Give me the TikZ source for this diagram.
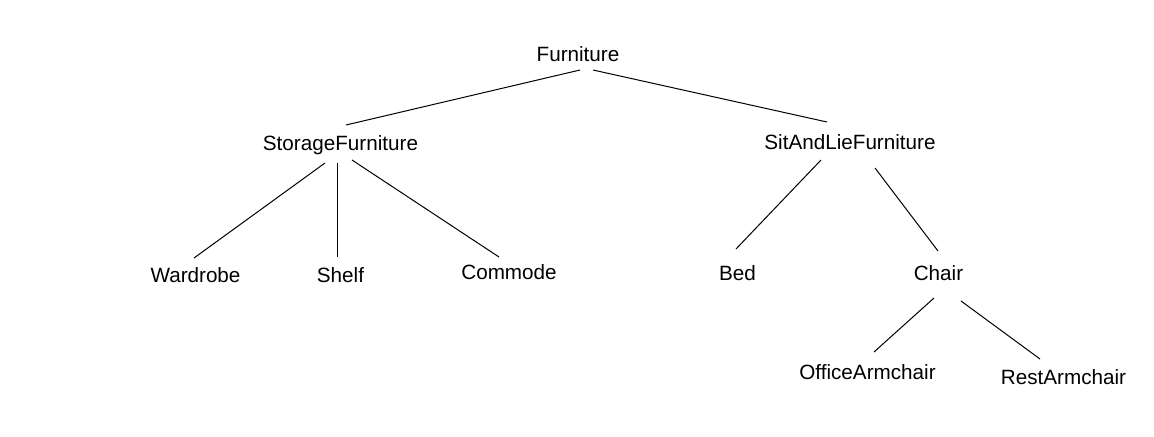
\documentclass[tikz,border=0pt]{standalone}
\usepackage{fontspec}
\setmainfont{Liberation Sans}
\usetikzlibrary{calc}
\begin{document}
\begin{tikzpicture}[x=0.75pt,y=-0.75pt,
  lbl/.style={anchor=base,inner sep=0pt,font=\fontsize{15.5pt}{18pt}\selectfont},
  edge/.style={draw=black,line width=0.75pt}]
\useasboundingbox (0,0) rectangle (1154,436);
\node[lbl] (F) at (578,61) {Furniture};
\node[lbl] (S) at (340.5,150) {StorageFurniture};
\node[lbl] (L) at (850,149) {SitAndLieFurniture};
\node[lbl] (W) at (195.5,282) {Wardrobe};
\node[lbl] (Sh) at (340.5,282) {Shelf};
\node[lbl] (Co) at (509,279) {Commode};
\node[lbl] (B) at (737.5,280) {Bed};
\node[lbl] (C) at (938.5,280) {Chair};
\node[lbl] (O) at (867.5,379) {OfficeArmchair};
\node[lbl] (R) at (1063.5,384) {RestArmchair};
\draw[edge] ($(F.base)+(2,9)$) -- ($(S.base)+(5.5,-25)$);
\draw[edge] ($(F.base)+(15,9)$) -- ($(L.base)+(-23,-27)$);
\draw[edge] ($(S.base)+(-15.5,13)$) -- ($(W.base)+(-1.5,-24)$);
\draw[edge] ($(S.base)+(-3,13)$) -- ($(Sh.base)+(-3,-25)$);
\draw[edge] ($(S.base)+(11.5,10)$) -- ($(Co.base)+(-10,-22)$);
\draw[edge] ($(L.base)+(-29,11)$) -- ($(B.base)+(-1.5,-31)$);
\draw[edge] ($(L.base)+(25,19)$) -- ($(C.base)+(-0.5,-29)$);
\draw[edge] ($(C.base)+(-4.5,18)$) -- ($(O.base)+(6.5,-27)$);
\draw[edge] ($(C.base)+(22.5,21)$) -- ($(R.base)+(-23.5,-25)$);
\end{tikzpicture}
\end{document}
